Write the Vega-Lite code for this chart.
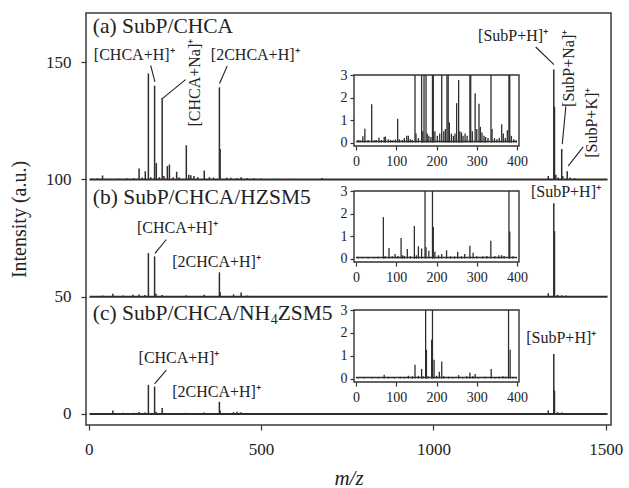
{
  "$schema": "https://vega.github.io/schema/vega-lite/v6.json",
  "width": 525,
  "height": 412,
  "autosize": "none",
  "padding": {"left": 86, "top": 13, "right": 18, "bottom": 63},
  "background": "white",
  "config": {
    "view": {"stroke": "#3a3a3a", "strokeWidth": 1.5},
    "font": "Liberation Serif",
    "axis": {
      "labelFont": "Liberation Serif",
      "titleFont": "Liberation Serif",
      "labelColor": "#222222",
      "titleColor": "#222222",
      "tickColor": "#333333",
      "domainColor": "#333333",
      "tickWidth": 1.2,
      "domainWidth": 1.5,
      "grid": false,
      "titleFontWeight": "normal"
    }
  },
  "datasets": {
    "main": [
      {"s": "a", "mz": 10, "base": 100, "top": 100.4},
      {"s": "a", "mz": 25, "base": 100, "top": 100.5},
      {"s": "a", "mz": 40, "base": 100, "top": 101.7},
      {"s": "a", "mz": 60, "base": 100, "top": 100.3},
      {"s": "a", "mz": 85, "base": 100, "top": 100.4},
      {"s": "a", "mz": 110, "base": 100, "top": 100.5},
      {"s": "a", "mz": 130, "base": 100, "top": 100.6},
      {"s": "a", "mz": 146, "base": 100, "top": 104.7},
      {"s": "a", "mz": 155, "base": 100, "top": 100.8},
      {"s": "a", "mz": 164, "base": 100, "top": 103.5},
      {"s": "a", "mz": 173, "base": 100, "top": 145.2},
      {"s": "a", "mz": 180, "base": 100, "top": 101},
      {"s": "a", "mz": 191, "base": 100, "top": 140},
      {"s": "a", "mz": 196, "base": 100, "top": 107},
      {"s": "a", "mz": 205, "base": 100, "top": 101},
      {"s": "a", "mz": 213, "base": 100, "top": 134.8},
      {"s": "a", "mz": 218, "base": 100, "top": 101.5},
      {"s": "a", "mz": 228, "base": 100, "top": 105.7},
      {"s": "a", "mz": 234, "base": 100, "top": 106.4},
      {"s": "a", "mz": 245, "base": 100, "top": 101},
      {"s": "a", "mz": 255, "base": 100, "top": 103.3},
      {"s": "a", "mz": 262, "base": 100, "top": 101},
      {"s": "a", "mz": 283, "base": 100, "top": 114.6},
      {"s": "a", "mz": 290, "base": 100, "top": 102},
      {"s": "a", "mz": 296, "base": 100, "top": 101.8},
      {"s": "a", "mz": 305, "base": 100, "top": 101.5},
      {"s": "a", "mz": 316, "base": 100, "top": 101},
      {"s": "a", "mz": 335, "base": 100, "top": 103.8},
      {"s": "a", "mz": 350, "base": 100, "top": 101},
      {"s": "a", "mz": 362, "base": 100, "top": 100.8},
      {"s": "a", "mz": 379, "base": 100, "top": 139.3},
      {"s": "a", "mz": 381, "base": 100, "top": 113},
      {"s": "a", "mz": 400, "base": 100, "top": 100.8},
      {"s": "a", "mz": 412, "base": 100, "top": 100.7},
      {"s": "a", "mz": 430, "base": 100, "top": 100.6},
      {"s": "a", "mz": 442, "base": 100, "top": 101},
      {"s": "a", "mz": 460, "base": 100, "top": 100.6},
      {"s": "a", "mz": 480, "base": 100, "top": 100.5},
      {"s": "a", "mz": 500, "base": 100, "top": 100.4},
      {"s": "a", "mz": 550, "base": 100, "top": 100.3},
      {"s": "a", "mz": 600, "base": 100, "top": 100.3},
      {"s": "a", "mz": 677, "base": 100, "top": 100.6},
      {"s": "a", "mz": 1333, "base": 100, "top": 101.5},
      {"s": "a", "mz": 1349, "base": 100, "top": 146.9},
      {"s": "a", "mz": 1351, "base": 100, "top": 131},
      {"s": "a", "mz": 1355, "base": 100, "top": 102},
      {"s": "a", "mz": 1362, "base": 100, "top": 100.8},
      {"s": "a", "mz": 1372, "base": 100, "top": 113},
      {"s": "a", "mz": 1375, "base": 100, "top": 101.5},
      {"s": "a", "mz": 1388, "base": 100, "top": 103.5},
      {"s": "a", "mz": 1396, "base": 100, "top": 100.8},
      {"s": "a", "mz": 1410, "base": 100, "top": 100.5},
      {"s": "b", "mz": 40, "base": 50, "top": 50.5},
      {"s": "b", "mz": 70, "base": 50, "top": 51.3},
      {"s": "b", "mz": 100, "base": 50, "top": 50.5},
      {"s": "b", "mz": 128, "base": 50, "top": 50.8},
      {"s": "b", "mz": 146, "base": 50, "top": 51},
      {"s": "b", "mz": 163, "base": 50, "top": 50.7},
      {"s": "b", "mz": 173, "base": 50, "top": 68.6},
      {"s": "b", "mz": 191, "base": 50, "top": 67.2},
      {"s": "b", "mz": 195, "base": 50, "top": 51.3},
      {"s": "b", "mz": 213, "base": 50, "top": 50.7},
      {"s": "b", "mz": 283, "base": 50, "top": 50.6},
      {"s": "b", "mz": 335, "base": 50, "top": 50.8},
      {"s": "b", "mz": 379, "base": 50, "top": 60.4},
      {"s": "b", "mz": 381, "base": 50, "top": 52},
      {"s": "b", "mz": 420, "base": 50, "top": 51},
      {"s": "b", "mz": 442, "base": 50, "top": 51.8},
      {"s": "b", "mz": 460, "base": 50, "top": 50.5},
      {"s": "b", "mz": 1333, "base": 50, "top": 51.5},
      {"s": "b", "mz": 1349, "base": 50, "top": 89.9},
      {"s": "b", "mz": 1351, "base": 50, "top": 78},
      {"s": "b", "mz": 1360, "base": 50, "top": 50.8},
      {"s": "b", "mz": 1372, "base": 50, "top": 50.6},
      {"s": "b", "mz": 1385, "base": 50, "top": 50.5},
      {"s": "c", "mz": 40, "base": 0, "top": 0.3},
      {"s": "c", "mz": 70, "base": 0, "top": 1.5},
      {"s": "c", "mz": 100, "base": 0, "top": 0.5},
      {"s": "c", "mz": 130, "base": 0, "top": 0.5},
      {"s": "c", "mz": 146, "base": 0, "top": 0.8},
      {"s": "c", "mz": 163, "base": 0, "top": 0.6},
      {"s": "c", "mz": 173, "base": 0, "top": 12.4},
      {"s": "c", "mz": 191, "base": 0, "top": 11.7},
      {"s": "c", "mz": 195, "base": 0, "top": 1},
      {"s": "c", "mz": 213, "base": 0, "top": 2.5},
      {"s": "c", "mz": 283, "base": 0, "top": 0.5},
      {"s": "c", "mz": 335, "base": 0, "top": 0.6},
      {"s": "c", "mz": 379, "base": 0, "top": 5.2},
      {"s": "c", "mz": 381, "base": 0, "top": 1.5},
      {"s": "c", "mz": 420, "base": 0, "top": 0.8},
      {"s": "c", "mz": 430, "base": 0, "top": 0.9},
      {"s": "c", "mz": 442, "base": 0, "top": 0.7},
      {"s": "c", "mz": 1333, "base": 0, "top": 1.5},
      {"s": "c", "mz": 1349, "base": 0, "top": 25.6},
      {"s": "c", "mz": 1351, "base": 0, "top": 10},
      {"s": "c", "mz": 1360, "base": 0, "top": 0.8},
      {"s": "c", "mz": 1372, "base": 0, "top": 0.6},
      {"s": "c", "mz": 1385, "base": 0, "top": 0.4}
    ],
    "baselines": [
      {"base": 100, "from": 2, "to": 1505},
      {"base": 50, "from": 2, "to": 1505},
      {"base": 0, "from": 2, "to": 1505}
    ],
    "leaders": [
      {"x1": 179.6, "y1": 148.7, "x2": 192, "y2": 141.6},
      {"x1": 280.9, "y1": 142.6, "x2": 213.4, "y2": 134.5},
      {"x1": 401.7, "y1": 148.4, "x2": 379.4, "y2": 140.9},
      {"x1": 1296.6, "y1": 156.5, "x2": 1349.6, "y2": 149.0},
      {"x1": 1384, "y1": 131.2, "x2": 1373.6, "y2": 115.1},
      {"x1": 1434.4, "y1": 113.9, "x2": 1391, "y2": 105.8},
      {"x1": 225, "y1": 74.4, "x2": 192, "y2": 68.5},
      {"x1": 225, "y1": 18.7, "x2": 191, "y2": 12.8}
    ],
    "titles": [
      {"mz": 11.6, "y": 162.4, "t": "(a) SubP/CHCA"},
      {"mz": 11.6, "y": 89.5, "t": "(b) SubP/CHCA/HZSM5"},
      {"mz": 11.6, "y": 40.1, "t": "(c) SubP/CHCA/NH"},
      {"mz": 548, "y": 40.1, "t": "ZSM5"}
    ],
    "subs": [
      {"mz": 528, "y": 38.3, "t": "4"}
    ],
    "labels": [
      {"mz": 131.8, "y": 150.85, "t": "[CHCA+H]⁺"},
      {"mz": 482.8, "y": 150.85, "t": "[2CHCA+H]⁺"},
      {"mz": 1231, "y": 159.1, "t": "[SubP+H]⁺"},
      {"mz": 256.8, "y": 77.0, "t": "[CHCA+H]⁺"},
      {"mz": 370.7, "y": 62.5, "t": "[2CHCA+H]⁺"},
      {"mz": 1384.3, "y": 92.6, "t": "[SubP+H]⁺"},
      {"mz": 261.5, "y": 21.6, "t": "[CHCA+H]⁺"},
      {"mz": 370.7, "y": 7.4, "t": "[2CHCA+H]⁺"},
      {"mz": 1370.7, "y": 30.1, "t": "[SubP+H]⁺"}
    ],
    "vlabels": [
      {"mz": 309, "y": 141.3, "t": "[CHCA+Na]⁺"},
      {"mz": 1393, "y": 147.4, "t": "[SubP+Na]⁺"},
      {"mz": 1461, "y": 124.2, "t": "[SubP+K]⁺"}
    ],
    "frame": [{"x1": -5, "x2": 405, "y1": -0.15, "y2": 3}],
    "ibase": [{"from": 0, "to": 400, "v": 0.05}],
    "insetA": [
      {"mz": 5, "v": 0.12}, {"mz": 10, "v": 0.1}, {"mz": 17, "v": 0.28}, {"mz": 22, "v": 0.62},
      {"mz": 30, "v": 0.12}, {"mz": 39, "v": 1.7}, {"mz": 45, "v": 0.1}, {"mz": 50, "v": 0.12},
      {"mz": 57, "v": 0.22}, {"mz": 63, "v": 0.12}, {"mz": 70, "v": 0.25}, {"mz": 73, "v": 0.27},
      {"mz": 80, "v": 0.15}, {"mz": 86, "v": 0.12}, {"mz": 92, "v": 0.1}, {"mz": 98, "v": 0.14},
      {"mz": 103.5, "v": 1.06}, {"mz": 108, "v": 0.15}, {"mz": 115, "v": 0.12}, {"mz": 120, "v": 0.2},
      {"mz": 126, "v": 0.3}, {"mz": 130, "v": 0.3}, {"mz": 135, "v": 0.15}, {"mz": 140, "v": 0.12},
      {"mz": 146.6, "v": 3.5}, {"mz": 149, "v": 0.4}, {"mz": 155, "v": 0.2}, {"mz": 163, "v": 3.5},
      {"mz": 166, "v": 0.5}, {"mz": 169, "v": 3.5}, {"mz": 174, "v": 3.5}, {"mz": 177, "v": 0.4},
      {"mz": 181, "v": 0.3}, {"mz": 186, "v": 0.25}, {"mz": 190, "v": 3.5}, {"mz": 192, "v": 3.5},
      {"mz": 196, "v": 0.5}, {"mz": 202, "v": 0.3}, {"mz": 208, "v": 0.4}, {"mz": 213, "v": 3.5},
      {"mz": 218, "v": 0.5}, {"mz": 222, "v": 0.6}, {"mz": 226, "v": 3.5}, {"mz": 229, "v": 3.5},
      {"mz": 232, "v": 0.9}, {"mz": 237, "v": 0.4}, {"mz": 242, "v": 0.3}, {"mz": 246, "v": 0.4},
      {"mz": 250, "v": 1.75}, {"mz": 255, "v": 2.78}, {"mz": 258, "v": 0.5}, {"mz": 262, "v": 0.45},
      {"mz": 266, "v": 0.3}, {"mz": 271, "v": 0.4}, {"mz": 276, "v": 0.3}, {"mz": 283, "v": 3.5},
      {"mz": 285, "v": 3.5}, {"mz": 289, "v": 0.5}, {"mz": 296, "v": 2.19}, {"mz": 300, "v": 0.6},
      {"mz": 305.6, "v": 1.72}, {"mz": 309, "v": 0.7}, {"mz": 313, "v": 0.45}, {"mz": 318, "v": 0.3},
      {"mz": 322, "v": 0.25}, {"mz": 328, "v": 0.2}, {"mz": 335.4, "v": 3.5}, {"mz": 338, "v": 0.6},
      {"mz": 344, "v": 0.2}, {"mz": 350, "v": 0.15}, {"mz": 356, "v": 0.2}, {"mz": 362, "v": 0.82},
      {"mz": 366, "v": 0.4}, {"mz": 371, "v": 0.2}, {"mz": 376, "v": 0.55}, {"mz": 380, "v": 3.5},
      {"mz": 382, "v": 3.5}, {"mz": 386, "v": 0.3}, {"mz": 392, "v": 0.15}, {"mz": 398, "v": 0.1}
    ],
    "insetB": [
      {"mz": 5, "v": 0.08}, {"mz": 15, "v": 0.06}, {"mz": 30, "v": 0.07}, {"mz": 45, "v": 0.06},
      {"mz": 55, "v": 0.08}, {"mz": 68, "v": 1.84}, {"mz": 72, "v": 0.1}, {"mz": 82, "v": 0.47},
      {"mz": 90, "v": 0.1}, {"mz": 97, "v": 0.2}, {"mz": 104, "v": 0.12}, {"mz": 112, "v": 0.91},
      {"mz": 116, "v": 0.15}, {"mz": 120, "v": 0.12}, {"mz": 127.5, "v": 0.43}, {"mz": 135, "v": 0.1},
      {"mz": 145, "v": 1.45}, {"mz": 150, "v": 0.15}, {"mz": 155, "v": 0.55}, {"mz": 163, "v": 0.45},
      {"mz": 171.5, "v": 3.5}, {"mz": 174, "v": 0.5}, {"mz": 181, "v": 0.35}, {"mz": 190, "v": 3.5},
      {"mz": 192, "v": 1.4}, {"mz": 196, "v": 0.3}, {"mz": 205, "v": 0.15}, {"mz": 213, "v": 0.2},
      {"mz": 225, "v": 0.37}, {"mz": 235, "v": 0.1}, {"mz": 245, "v": 0.1}, {"mz": 252.6, "v": 0.3},
      {"mz": 262, "v": 0.1}, {"mz": 270, "v": 0.2}, {"mz": 283, "v": 0.57}, {"mz": 291, "v": 0.26},
      {"mz": 300, "v": 0.1}, {"mz": 315, "v": 0.1}, {"mz": 325, "v": 0.12}, {"mz": 335, "v": 0.79},
      {"mz": 345, "v": 0.1}, {"mz": 355, "v": 0.15}, {"mz": 362, "v": 0.15}, {"mz": 368, "v": 0.12},
      {"mz": 380, "v": 3.5}, {"mz": 382, "v": 1.2}, {"mz": 390, "v": 0.1}
    ],
    "insetC": [
      {"mz": 5, "v": 0.06}, {"mz": 20, "v": 0.05}, {"mz": 40, "v": 0.06}, {"mz": 55, "v": 0.07},
      {"mz": 70, "v": 0.17}, {"mz": 80, "v": 0.08}, {"mz": 95, "v": 0.06}, {"mz": 110, "v": 0.08},
      {"mz": 120, "v": 0.07}, {"mz": 130, "v": 0.12}, {"mz": 140, "v": 0.1}, {"mz": 146.6, "v": 0.6},
      {"mz": 155, "v": 0.12}, {"mz": 163, "v": 0.42}, {"mz": 167, "v": 0.1}, {"mz": 173, "v": 3.5},
      {"mz": 175, "v": 1.26}, {"mz": 179, "v": 0.1}, {"mz": 188, "v": 1.7}, {"mz": 190, "v": 3.5},
      {"mz": 194, "v": 0.82}, {"mz": 200, "v": 0.12}, {"mz": 207, "v": 0.3}, {"mz": 213, "v": 0.75},
      {"mz": 218, "v": 0.1}, {"mz": 230, "v": 0.08}, {"mz": 240, "v": 0.06}, {"mz": 255, "v": 0.15},
      {"mz": 265, "v": 0.06}, {"mz": 275, "v": 0.1}, {"mz": 283, "v": 0.27}, {"mz": 290, "v": 0.1},
      {"mz": 296, "v": 0.2}, {"mz": 305, "v": 0.06}, {"mz": 320, "v": 0.08}, {"mz": 336, "v": 0.42},
      {"mz": 345, "v": 0.06}, {"mz": 355, "v": 0.08}, {"mz": 365, "v": 0.1}, {"mz": 372, "v": 0.08},
      {"mz": 379, "v": 3.5}, {"mz": 383, "v": 1.26}, {"mz": 390, "v": 0.06}, {"mz": 398, "v": 0.05}
    ]
  },
  "layer": [
    {
      "data": {"name": "baselines"},
      "mark": {"type": "rule", "color": "#2e2e2e", "strokeWidth": 1.8},
      "encoding": {
        "x": {"field": "from", "type": "quantitative", "scale": {"domain": [-8, 1515], "nice": false, "zero": false},
          "axis": {"orient": "bottom", "values": [0, 500, 1000, 1500], "format": "d", "tickSize": 5, "domain": false, "labelFontSize": 17, "labelPadding": 11, "title": "m/z", "titleFontStyle": "italic", "titleFontSize": 21, "titlePadding": 10,
            "encode": {"labels": {"update": {"font": {"value": "Liberation Serif"}}}, "title": {"update": {"font": {"value": "Liberation Serif"}, "fontStyle": {"value": "italic"}}}}}},
        "x2": {"field": "to"},
        "y": {"field": "base", "type": "quantitative", "scale": {"domain": [-4.7, 171], "nice": false, "zero": false},
          "axis": {"orient": "left", "values": [0, 50, 100, 150], "format": "d", "tickSize": 5, "domain": false, "labelFontSize": 17, "labelPadding": 10, "title": "Intensity (a.u.)", "titleFontSize": 20, "titlePadding": 16,
            "encode": {"labels": {"update": {"font": {"value": "Liberation Serif"}}}, "title": {"update": {"font": {"value": "Liberation Serif"}}}}}}
      }
    },
    {
      "data": {"name": "main"},
      "mark": {"type": "rule", "color": "#2e2e2e", "strokeWidth": 1.5},
      "encoding": {
        "x": {"field": "mz", "type": "quantitative", "scale": {"domain": [-8, 1515], "nice": false, "zero": false}, "axis": null},
        "y": {"field": "top", "type": "quantitative", "scale": {"domain": [-4.7, 171], "nice": false, "zero": false}, "axis": null},
        "y2": {"field": "base"}
      }
    },
    {
      "data": {"name": "leaders"},
      "mark": {"type": "rule", "color": "#222222", "strokeWidth": 1.1},
      "encoding": {
        "x": {"field": "x1", "type": "quantitative", "scale": {"domain": [-8, 1515], "nice": false, "zero": false}, "axis": null},
        "x2": {"field": "x2"},
        "y": {"field": "y1", "type": "quantitative", "scale": {"domain": [-4.7, 171], "nice": false, "zero": false}, "axis": null},
        "y2": {"field": "y2"}
      }
    },
    {
      "data": {"name": "titles"},
      "mark": {"type": "text", "align": "left", "baseline": "alphabetic", "font": "Liberation Serif", "fontSize": 21.5, "color": "#222222"},
      "encoding": {
        "x": {"field": "mz", "type": "quantitative", "scale": {"domain": [-8, 1515], "nice": false, "zero": false}, "axis": null},
        "y": {"field": "y", "type": "quantitative", "scale": {"domain": [-4.7, 171], "nice": false, "zero": false}, "axis": null},
        "text": {"field": "t"}
      }
    },
    {
      "data": {"name": "subs"},
      "mark": {"type": "text", "align": "left", "baseline": "alphabetic", "font": "Liberation Serif", "fontSize": 14, "color": "#222222"},
      "encoding": {
        "x": {"field": "mz", "type": "quantitative", "scale": {"domain": [-8, 1515], "nice": false, "zero": false}, "axis": null},
        "y": {"field": "y", "type": "quantitative", "scale": {"domain": [-4.7, 171], "nice": false, "zero": false}, "axis": null},
        "text": {"field": "t"}
      }
    },
    {
      "data": {"name": "labels"},
      "mark": {"type": "text", "align": "center", "baseline": "alphabetic", "font": "Liberation Serif", "fontSize": 16, "color": "#222222"},
      "encoding": {
        "x": {"field": "mz", "type": "quantitative", "scale": {"domain": [-8, 1515], "nice": false, "zero": false}, "axis": null},
        "y": {"field": "y", "type": "quantitative", "scale": {"domain": [-4.7, 171], "nice": false, "zero": false}, "axis": null},
        "text": {"field": "t"}
      }
    },
    {
      "data": {"name": "vlabels"},
      "mark": {"type": "text", "align": "center", "baseline": "middle", "angle": 270, "font": "Liberation Serif", "fontSize": 16, "color": "#222222"},
      "encoding": {
        "x": {"field": "mz", "type": "quantitative", "scale": {"domain": [-8, 1515], "nice": false, "zero": false}, "axis": null},
        "y": {"field": "y", "type": "quantitative", "scale": {"domain": [-4.7, 171], "nice": false, "zero": false}, "axis": null},
        "text": {"field": "t"}
      }
    },
    {
      "data": {"name": "frame"},
      "mark": {"type": "rect", "fill": "white", "stroke": "#333333", "strokeWidth": 1.4},
      "encoding": {
        "x": {"field": "x1", "type": "quantitative", "scale": {"domain": [-5, 405], "range": [268, 433], "nice": false, "zero": false},
          "axis": {"orient": "bottom", "offset": -279, "values": [0, 100, 200, 300, 400], "format": "d", "tickSize": 4, "domain": false, "labelFontSize": 14, "labelPadding": 4, "title": null,
            "encode": {"labels": {"update": {"font": {"value": "Liberation Serif"}}}}}},
        "x2": {"field": "x2"},
        "y": {"field": "y1", "type": "quantitative", "scale": {"domain": [-0.15, 3], "range": [133, 62], "nice": false, "zero": false},
          "axis": {"orient": "left", "offset": -268, "values": [0, 1, 2, 3], "format": "d", "tickSize": 4, "domain": false, "labelFontSize": 14, "labelPadding": 3, "title": null,
            "encode": {"labels": {"update": {"font": {"value": "Liberation Serif"}}}}}},
        "y2": {"field": "y2"}
      }
    },
    {
      "data": {"name": "ibase"},
      "mark": {"type": "rule", "color": "#2e2e2e", "strokeWidth": 1.5},
      "encoding": {
        "x": {"field": "from", "type": "quantitative", "scale": {"domain": [-5, 405], "range": [268, 433], "nice": false, "zero": false}, "axis": null},
        "x2": {"field": "to"},
        "y": {"field": "v", "type": "quantitative", "scale": {"domain": [-0.15, 3], "range": [133, 62], "nice": false, "zero": false}, "axis": null}
      }
    },
    {
      "data": {"name": "insetA"},
      "mark": {"type": "rule", "color": "#2e2e2e", "strokeWidth": 1.3},
      "encoding": {
        "x": {"field": "mz", "type": "quantitative", "scale": {"domain": [-5, 405], "range": [268, 433], "nice": false, "zero": false}, "axis": null},
        "y": {"field": "v", "type": "quantitative", "scale": {"domain": [-0.15, 3], "range": [133, 62], "nice": false, "zero": false, "clamp": true}, "axis": null},
        "y2": {"datum": 0}
      }
    },
    {
      "data": {"name": "frame"},
      "mark": {"type": "rect", "fill": "white", "stroke": "#333333", "strokeWidth": 1.4},
      "encoding": {
        "x": {"field": "x1", "type": "quantitative", "scale": {"domain": [-5, 405], "range": [268, 433], "nice": false, "zero": false},
          "axis": {"orient": "bottom", "offset": -163, "values": [0, 100, 200, 300, 400], "format": "d", "tickSize": 4, "domain": false, "labelFontSize": 14, "labelPadding": 4, "title": null,
            "encode": {"labels": {"update": {"font": {"value": "Liberation Serif"}}}}}},
        "x2": {"field": "x2"},
        "y": {"field": "y1", "type": "quantitative", "scale": {"domain": [-0.15, 3], "range": [249, 178], "nice": false, "zero": false},
          "axis": {"orient": "left", "offset": -268, "values": [0, 1, 2, 3], "format": "d", "tickSize": 4, "domain": false, "labelFontSize": 14, "labelPadding": 3, "title": null,
            "encode": {"labels": {"update": {"font": {"value": "Liberation Serif"}}}}}},
        "y2": {"field": "y2"}
      }
    },
    {
      "data": {"name": "ibase"},
      "mark": {"type": "rule", "color": "#2e2e2e", "strokeWidth": 1.5},
      "encoding": {
        "x": {"field": "from", "type": "quantitative", "scale": {"domain": [-5, 405], "range": [268, 433], "nice": false, "zero": false}, "axis": null},
        "x2": {"field": "to"},
        "y": {"field": "v", "type": "quantitative", "scale": {"domain": [-0.15, 3], "range": [249, 178], "nice": false, "zero": false}, "axis": null}
      }
    },
    {
      "data": {"name": "insetB"},
      "mark": {"type": "rule", "color": "#2e2e2e", "strokeWidth": 1.3},
      "encoding": {
        "x": {"field": "mz", "type": "quantitative", "scale": {"domain": [-5, 405], "range": [268, 433], "nice": false, "zero": false}, "axis": null},
        "y": {"field": "v", "type": "quantitative", "scale": {"domain": [-0.15, 3], "range": [249, 178], "nice": false, "zero": false, "clamp": true}, "axis": null},
        "y2": {"datum": 0}
      }
    },
    {
      "data": {"name": "frame"},
      "mark": {"type": "rect", "fill": "white", "stroke": "#333333", "strokeWidth": 1.4},
      "encoding": {
        "x": {"field": "x1", "type": "quantitative", "scale": {"domain": [-5, 405], "range": [268, 433], "nice": false, "zero": false},
          "axis": {"orient": "bottom", "offset": -43, "values": [0, 100, 200, 300, 400], "format": "d", "tickSize": 4, "domain": false, "labelFontSize": 14, "labelPadding": 4, "title": null,
            "encode": {"labels": {"update": {"font": {"value": "Liberation Serif"}}}}}},
        "x2": {"field": "x2"},
        "y": {"field": "y1", "type": "quantitative", "scale": {"domain": [-0.15, 3], "range": [369, 297], "nice": false, "zero": false},
          "axis": {"orient": "left", "offset": -268, "values": [0, 1, 2, 3], "format": "d", "tickSize": 4, "domain": false, "labelFontSize": 14, "labelPadding": 3, "title": null,
            "encode": {"labels": {"update": {"font": {"value": "Liberation Serif"}}}}}},
        "y2": {"field": "y2"}
      }
    },
    {
      "data": {"name": "ibase"},
      "mark": {"type": "rule", "color": "#2e2e2e", "strokeWidth": 1.5},
      "encoding": {
        "x": {"field": "from", "type": "quantitative", "scale": {"domain": [-5, 405], "range": [268, 433], "nice": false, "zero": false}, "axis": null},
        "x2": {"field": "to"},
        "y": {"field": "v", "type": "quantitative", "scale": {"domain": [-0.15, 3], "range": [369, 297], "nice": false, "zero": false}, "axis": null}
      }
    },
    {
      "data": {"name": "insetC"},
      "mark": {"type": "rule", "color": "#2e2e2e", "strokeWidth": 1.3},
      "encoding": {
        "x": {"field": "mz", "type": "quantitative", "scale": {"domain": [-5, 405], "range": [268, 433], "nice": false, "zero": false}, "axis": null},
        "y": {"field": "v", "type": "quantitative", "scale": {"domain": [-0.15, 3], "range": [369, 297], "nice": false, "zero": false, "clamp": true}, "axis": null},
        "y2": {"datum": 0}
      }
    }
  ],
  "resolve": {
    "scale": {"x": "independent", "y": "independent"},
    "axis": {"x": "independent", "y": "independent"}
  }
}
